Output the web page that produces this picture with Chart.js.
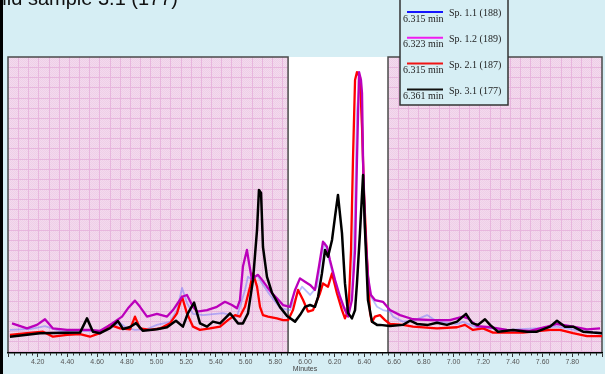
<!DOCTYPE html>
<html>
<head>
<meta charset="utf-8">
<title>Chromatogram overlay</title>
<script src="https://cdn.jsdelivr.net/npm/chart.js@4/dist/chart.umd.min.js"></script>
<style>
  html, body { margin: 0; padding: 0; background: #d6eef4; }
  #wrap { width: 605px; height: 374px; }
</style>
</head>
<body>
<div id="wrap"><canvas id="chrom" width="605" height="374"></canvas></div>
<script>
// Retention time (min) and detector response (arbitrary units) for each trace
const sp11Time = [4.013,4.148,4.249,4.350,4.485,4.620,4.687,4.754,4.801,4.855,4.936,5.003,5.091,5.138,5.172,5.205,5.246,5.313,5.448,5.542,5.596,5.616,5.643,5.677,5.711,5.764,5.832,5.899,5.946,5.980,6.034,6.081,6.114,6.135,6.168,6.215,6.256,6.290,6.316,6.337,6.350,6.364,6.377,6.391,6.411,6.438,6.485,6.525,6.572,6.593,6.660,6.741,6.822,6.889,7.024,7.064,7.145,7.360,7.582,7.697,7.818,8.000];
const sp11Resp = [7.8,8.1,9.1,7.4,7.4,7.4,8.4,10.1,8.4,7.8,8.1,9.5,10.5,14.5,22.0,16.9,13.2,12.8,13.5,12.3,21.3,25.8,24.7,26.4,23.5,19.6,15.2,14.5,19.6,22.4,19.6,22.4,33.7,37.1,30.4,21.3,15.6,14.5,21.3,51.7,82.1,89.5,87.2,61.8,34.8,19.6,15.6,14.5,14.0,12.3,10.6,11.1,12.8,10.6,9.8,10.5,8.8,7.8,8.4,8.9,7.8,6.8];

const sp12Time = [4.027,4.128,4.195,4.249,4.303,4.397,4.485,4.552,4.620,4.687,4.768,4.808,4.855,4.889,4.936,5.003,5.071,5.111,5.172,5.205,5.246,5.273,5.340,5.407,5.461,5.508,5.542,5.562,5.582,5.609,5.623,5.643,5.663,5.684,5.711,5.744,5.778,5.811,5.852,5.899,5.933,5.966,6.000,6.034,6.067,6.094,6.121,6.148,6.168,6.202,6.236,6.269,6.290,6.316,6.337,6.350,6.364,6.377,6.384,6.391,6.404,6.424,6.444,6.471,6.525,6.572,6.640,6.727,6.862,6.976,7.064,7.098,7.158,7.246,7.360,7.515,7.630,7.697,7.805,7.899,7.987];
const sp12Resp = [10.0,8.3,9.5,11.4,8.3,7.8,7.8,7.8,7.5,9.5,12.3,15.1,17.7,15.6,12.3,13.2,12.3,14.5,19.0,19.6,15.6,14.0,14.5,15.6,17.3,16.2,15.1,17.9,29.2,34.8,30.4,24.7,25.8,26.4,24.7,22.4,20.2,18.5,16.2,15.6,21.3,25.2,24.1,23.0,21.3,29.2,37.6,35.9,31.4,24.7,19.0,14.5,12.3,17.9,34.8,65.2,94.9,92.2,87.8,65.2,42.6,25.7,19.6,17.9,17.3,14.5,12.8,11.4,11.1,11.1,12.3,11.7,9.1,8.7,7.8,7.5,8.9,9.8,8.9,8.0,8.3];

const sp21Time = [4.013,4.128,4.236,4.303,4.397,4.485,4.552,4.620,4.687,4.754,4.822,4.855,4.889,4.956,5.024,5.091,5.138,5.172,5.205,5.246,5.293,5.360,5.428,5.481,5.529,5.562,5.596,5.630,5.650,5.677,5.697,5.717,5.751,5.811,5.852,5.886,5.919,5.953,5.987,6.020,6.054,6.101,6.121,6.155,6.182,6.215,6.249,6.269,6.283,6.296,6.310,6.323,6.337,6.350,6.370,6.384,6.397,6.418,6.438,6.451,6.471,6.505,6.539,6.572,6.660,6.727,6.889,7.024,7.077,7.131,7.199,7.266,7.468,7.650,7.717,7.805,7.899,8.000];
const sp21Resp = [6.1,6.7,7.2,5.5,6.1,6.4,5.5,6.7,9.5,8.3,8.0,12.3,8.3,7.8,8.3,10.0,13.4,19.0,13.4,8.9,7.8,8.3,8.9,11.1,12.8,12.3,15.6,22.4,26.9,22.4,15.6,12.8,12.3,11.7,11.1,11.1,14.5,21.3,17.9,14.0,14.5,20.2,23.5,22.4,26.9,20.2,14.5,11.7,13.4,17.9,34.8,65.2,92.2,94.9,93.2,76.4,54.1,31.4,13.5,10.5,12.3,12.8,11.1,9.8,9.5,8.9,8.3,8.7,9.5,7.8,8.3,6.9,6.9,7.8,7.8,6.7,5.7,5.7];

const sp31Time = [4.013,4.215,4.397,4.485,4.532,4.572,4.620,4.687,4.741,4.774,4.822,4.862,4.909,5.003,5.071,5.131,5.178,5.212,5.253,5.293,5.340,5.380,5.428,5.495,5.549,5.582,5.616,5.650,5.677,5.690,5.704,5.717,5.744,5.778,5.832,5.879,5.933,5.966,6.000,6.034,6.067,6.088,6.114,6.135,6.155,6.182,6.202,6.222,6.249,6.269,6.290,6.316,6.337,6.350,6.370,6.391,6.404,6.424,6.451,6.485,6.505,6.572,6.660,6.707,6.754,6.828,6.889,6.956,7.024,7.084,7.125,7.165,7.212,7.246,7.300,7.401,7.495,7.562,7.650,7.697,7.751,7.805,7.872,7.939,8.000];
const sp31Resp = [5.5,6.7,6.8,6.9,11.7,7.2,6.7,8.4,10.8,8.1,8.8,10.1,7.5,8.0,8.7,10.9,8.9,13.5,17.0,10.0,8.9,10.6,10.0,13.4,10.0,10.0,13.4,24.7,41.6,55.1,54.1,35.8,25.7,20.3,15.5,12.5,10.6,12.8,15.6,16.2,15.6,19.0,26.9,34.8,32.5,38.2,46.0,53.4,40.5,23.6,13.5,11.7,14.5,23.6,40.5,60.1,41.6,17.9,10.6,9.5,9.5,9.1,9.5,10.9,9.8,9.5,10.2,9.5,10.6,13.2,10.1,9.5,11.4,9.5,7.2,7.8,7.2,7.2,8.9,10.9,8.9,8.9,7.2,6.9,6.7];

const seriesNames = ['Sp. 1.1 (188)', 'Sp. 1.2 (189)', 'Sp. 2.1 (187)', 'Sp. 3.1 (177)'];
const apexLabels = ['6.315 min', '6.323 min', '6.315 min', '6.361 min'];
const keyColors = ['#1414ff', '#f01cf0', '#f01414', '#111111'];
const traceColors = ['rgba(90,100,255,0.42)', '#bb00bb', '#ff0000', '#000000'];
const traceWidths = [1.8, 2.3, 2.3, 2.5];
const traceOrder = [3, 1, 2, 0];

const sampleTitle = 'Wild sample 3.1 (177)';
const axisTitle = 'Minutes';
const timeRange = [4.0, 8.0];
const labelStep = 0.2;
const minorStep = 0.04;
const peakWindow = [5.886, 6.559];

const pageBg = '#d6eef4';

function pairs(t, v) { return t.map((x, i) => ({ x: x, y: v[i] })); }

// Light pink checker used to shade the baseline regions
function pinkPattern(ctx) {
  const c = document.createElement('canvas');
  c.width = 2; c.height = 2;
  const p = c.getContext('2d');
  p.fillStyle = '#f4d9ee'; p.fillRect(0, 0, 2, 2);
  p.fillStyle = '#eed0e7'; p.fillRect(0, 0, 1, 1); p.fillRect(1, 1, 1, 1);
  return ctx.createPattern(c, 'repeat');
}

const backdrop = {
  id: 'backdrop',
  beforeDraw(chart) {
    const { ctx, chartArea: a, scales: { x } } = chart;
    ctx.save();
    ctx.fillStyle = pageBg;
    ctx.fillRect(0, 0, chart.width, chart.height);
    const x1 = x.getPixelForValue(peakWindow[0]);
    const x2 = x.getPixelForValue(peakWindow[1]);
    const regions = [[a.left, x1], [x2, a.right]];
    ctx.fillStyle = '#ffffff';
    ctx.fillRect(x1, a.top, x2 - x1, a.bottom - a.top);
    const pat = pinkPattern(ctx);
    const gap = 10.15;
    regions.forEach(([l, r]) => {
      ctx.fillStyle = pat;
      ctx.fillRect(l, a.top, r - l, a.bottom - a.top);
      ctx.strokeStyle = '#e7b6dd';
      ctx.lineWidth = 1;
      ctx.beginPath();
      for (let gx = l + gap; gx < r - 1; gx += gap) {
        const px = Math.round(gx) + 0.5;
        ctx.moveTo(px, a.top); ctx.lineTo(px, a.bottom);
      }
      for (let gy = a.top + gap; gy < a.bottom - 1; gy += gap) {
        const py = Math.round(gy) + 0.5;
        ctx.moveTo(l, py); ctx.lineTo(r, py);
      }
      ctx.stroke();
    });
    ctx.strokeStyle = '#4a4a4a';
    ctx.lineWidth = 1.5;
    regions.forEach(([l, r]) => {
      ctx.beginPath();
      ctx.moveTo(l, a.bottom); ctx.lineTo(l, a.top); ctx.lineTo(r, a.top); ctx.lineTo(r, a.bottom);
      ctx.stroke();
    });
    ctx.restore();
  },
  afterDraw(chart) {
    const { ctx, chartArea: a, scales: { x } } = chart;
    ctx.save();
    // minor tick marks along the time axis
    ctx.strokeStyle = '#333';
    ctx.lineWidth = 1;
    ctx.beginPath();
    const n = Math.round((timeRange[1] - timeRange[0]) / minorStep);
    for (let i = 0; i <= n; i++) {
      if (i % Math.round(labelStep / minorStep) === 0) continue;
      const px = Math.round(x.getPixelForValue(timeRange[0] + i * minorStep)) + 0.5;
      ctx.moveTo(px, a.bottom); ctx.lineTo(px, a.bottom + 2.5);
    }
    ctx.stroke();

    // sample title, clipped by the top edge
    ctx.fillStyle = '#111';
    ctx.font = '20px "Liberation Sans", Arial, sans-serif';
    ctx.textAlign = 'right';
    ctx.textBaseline = 'alphabetic';
    ctx.fillText(sampleTitle, 178, 4.5);

    // key box with apex times
    const bx = 400, by = -2, bw = 108, bh = 107;
    ctx.fillStyle = pageBg;
    ctx.fillRect(bx, by, bw, bh);
    ctx.strokeStyle = '#333';
    ctx.lineWidth = 1.5;
    ctx.strokeRect(bx, by, bw, bh);
    ctx.font = '10px "Liberation Serif", "Times New Roman", serif';
    ctx.textAlign = 'left';
    seriesNames.forEach((name, i) => {
      const ly = 12 + i * 25.8;
      ctx.strokeStyle = keyColors[i];
      ctx.lineWidth = 2;
      ctx.beginPath();
      ctx.moveTo(407, ly); ctx.lineTo(443, ly);
      ctx.stroke();
      ctx.fillStyle = '#222';
      ctx.textBaseline = 'middle';
      ctx.fillText(name, 449, ly + 1.5);
      ctx.fillText(apexLabels[i], 403, ly + 7);
    });

    // frame bar on the left edge
    ctx.fillStyle = '#000';
    ctx.fillRect(0, 0, 3, chart.height);
    ctx.restore();
  }
};

const datasets = [
  [sp11Time, sp11Resp], [sp12Time, sp12Resp], [sp21Time, sp21Resp], [sp31Time, sp31Resp]
].map(([t, v], i) => ({
  label: seriesNames[i],
  data: pairs(t, v),
  borderColor: traceColors[i],
  borderWidth: traceWidths[i],
  borderJoinStyle: 'round',
  pointRadius: 0,
  tension: 0,
  fill: false,
  order: traceOrder[i]
}));

new Chart(document.getElementById('chrom'), {
  type: 'line',
  data: { datasets: datasets },
  options: {
    responsive: false,
    animation: false,
    events: [],
    layout: { padding: { left: 8, right: 3, top: 57, bottom: 0 } },
    plugins: { legend: { display: false }, tooltip: { enabled: false }, title: { display: false } },
    scales: {
      x: {
        type: 'linear',
        min: timeRange[0],
        max: timeRange[1],
        afterFit(scale) { scale.height = 21; },
        grid: { display: true, drawOnChartArea: false, drawTicks: true, tickLength: 4, color: '#333', lineWidth: 1 },
        border: { display: true, color: '#000', width: 1.5 },
        ticks: {
          stepSize: labelStep,
          autoSkip: false,
          maxRotation: 0,
          padding: 1,
          color: '#555',
          font: { family: '"Liberation Sans", Arial, sans-serif', size: 7 },
          callback(v) {
            if (Math.abs(v - timeRange[0]) < 1e-6 || Math.abs(v - timeRange[1]) < 1e-6) return '';
            return Number(v).toFixed(2);
          }
        },
        title: {
          display: true,
          text: axisTitle,
          color: '#444',
          font: { family: '"Liberation Sans", Arial, sans-serif', size: 7 },
          padding: { top: 0, bottom: 1 }
        }
      },
      y: { display: false, min: 0, max: 100 }
    }
  },
  plugins: [backdrop]
});
</script>
</body>
</html>
